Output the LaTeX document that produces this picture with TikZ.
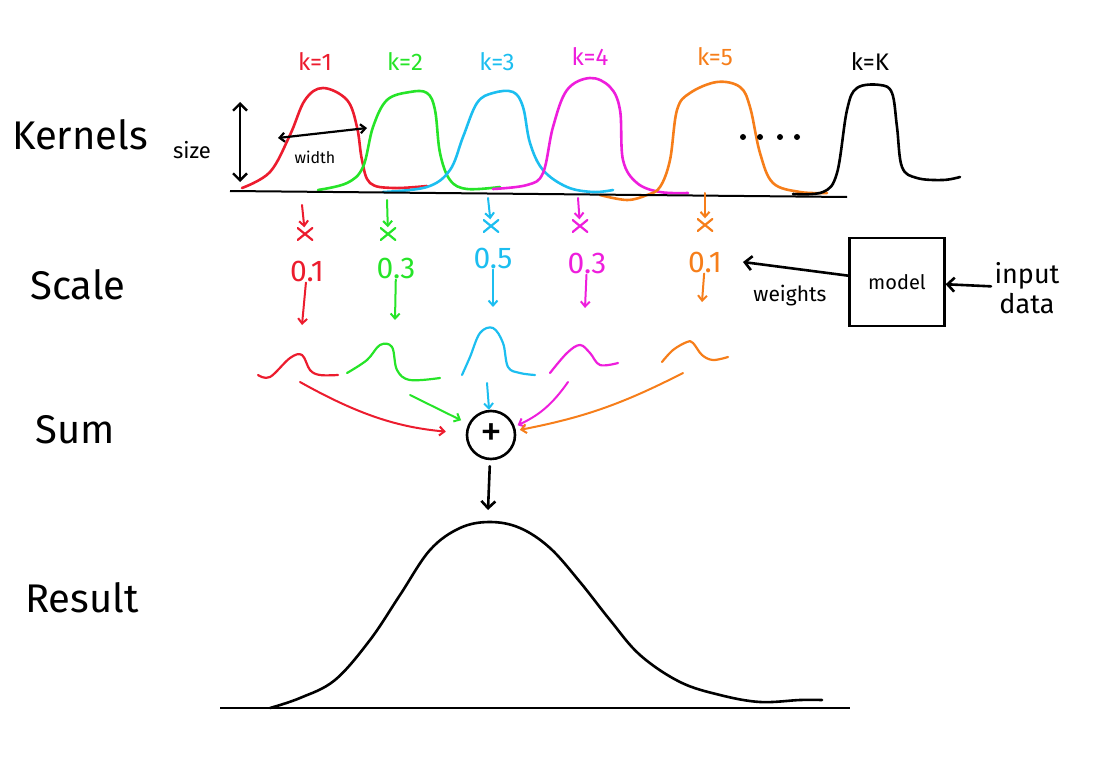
\documentclass[tikz,border=0pt]{standalone}
\usepackage{fontspec}
\setmainfont{Fira Sans}
\usetikzlibrary{arrows.meta, positioning}
\definecolor{kRed}{RGB}{236,28,46}
\definecolor{kGreen}{RGB}{38,228,40}
\definecolor{kCyan}{RGB}{28,190,240}
\definecolor{kMagenta}{RGB}{238,30,220}
\definecolor{kOrange}{RGB}{246,126,26}

\begin{document}
\begin{tikzpicture} [x=1pt, y=-1pt,
    kern/.style = {line width=2.6pt, line cap=round, line join=round},
    small/.style = {line width=2.2pt, line cap=round, line join=round},
    row/.style = {font=\fontsize{40}{42}\selectfont},
    klbl/.style = {font=\fontsize{24}{26}\selectfont},
    num/.style = {font=\fontsize{30}{32}\selectfont, inner sep=1pt},
    cross/.style = {minimum width=16pt, minimum height=13pt, inner sep=0pt,
      path picture={\draw[line width=2.2pt, line cap=round]
        (path picture bounding box.north west) -- (path picture bounding box.south east)
        (path picture bounding box.north east) -- (path picture bounding box.south west);}},
    every edge/.style={draw, -{Straight Barb[length=5pt, width=9pt]}, line width=2pt, line cap=round}
    ]
  \useasboundingbox (0,0) rectangle (1103,757);

  %%% ROW LABELS %%%
  \node[row] (kernels) at (80,135) {Kernels};
  \node[row] (scale)   at (78,285) {Scale};
  \node[row] (sum)     at (75,430) {Sum};
  \node[row] (result)  at (82,598) {Result};

  %%% KERNELS %%%
  \draw[kern, kRed] plot[smooth, tension=0.6] coordinates {(242,188) (270,172) (290,135) (305,100) (323,88) (347,100) (357,127) (362,160) (370,183) (393,188) (427,186)};
  \draw[kern, kGreen] plot[smooth, tension=0.6] coordinates {(318,190) (347,183) (363,167) (373,127) (387,100) (410,92) (427,93) (435,110) (440,153) (450,180) (467,189) (500,187)};
  \draw[kern, kCyan] plot[smooth, tension=0.6] coordinates {(383,192) (427,187) (450,170) (463,137) (477,103) (493,93) (513,92) (523,107) (530,143) (543,170) (567,187) (593,192) (613,190)};
  \draw[kern, kMagenta] plot[smooth, tension=0.6] coordinates {(493,189) (527,185) (543,173) (553,127) (567,90) (590,78) (610,87) (620,110) (623,160) (637,183) (660,192) (688,193)};
  \draw[kern, kOrange] plot[smooth, tension=0.6] coordinates {(600,195) (627,200) (647,195) (660,187) (670,160) (677,110) (690,93) (717,82) (740,87) (750,107) (760,153) (773,183) (800,192) (827,193)};
  \draw[kern] plot[smooth, tension=0.6] coordinates {(793,194) (823,192) (837,173) (847,110) (857,88) (880,85) (892,93) (897,127) (902,167) (917,178) (943,180) (960,177)};
  \draw[line width=2pt] (230,191) -- (847,197);
    % text labels
    \node[klbl, kRed]     (k1) at (315,62) {k=1};
    \node[klbl, kGreen]   (k2) at (405,62) {k=2};
    \node[klbl, kCyan]    (k3) at (497,62) {k=3};
    \node[klbl, kMagenta] (k4) at (590,57) {k=4};
    \node[klbl, kOrange]  (k5) at (715,57) {k=5};
    \node[klbl]           (kK) at (870,62) {k=K};
    \foreach \dx in {743,760,780,797} \fill (\dx,137) circle (3pt);

  %%% SIZE / WIDTH %%%
  \coordinate (sizetop) at (240,102);
  \coordinate (sizebot) at (240,182);
  \draw[{Straight Barb[length=7pt, width=14pt]}-{Straight Barb[length=7pt, width=14pt]}, line width=2.4pt] (sizetop) -- (sizebot);
  \node[font=\fontsize{22}{24}\selectfont] (size) at (192,150) {size};
  \coordinate (widthL) at (278,138);
  \coordinate (widthR) at (367,128);
  \draw[{Straight Barb[length=5pt, width=9pt]}-{Straight Barb[length=5pt, width=9pt]}, line width=2.2pt] (widthL) -- (widthR);
  \node[font=\fontsize{16}{18}\selectfont] (width) at (315,157) {width};

  %%% SCALE %%%
  \coordinate (t1) at (302,205);  \node[cross, kRed]     (x1) at (305,234) {};
  \coordinate (t2) at (387,200);  \node[cross, kGreen]   (x2) at (388,234) {};
  \coordinate (t3) at (488,198);  \node[cross, kCyan]    (x3) at (491,226) {};
  \coordinate (t4) at (578,198);  \node[cross, kMagenta] (x4) at (580,226) {};
  \coordinate (t5) at (705,193);  \node[cross, kOrange]  (x5) at (705,225) {};
  \node[num, kRed]     (n1) at (307,271) {0.1};
  \node[num, kGreen]   (n2) at (396,268) {0.3};
  \node[num, kCyan]    (n3) at (493,258) {0.5};
  \node[num, kMagenta] (n4) at (587,263) {0.3};
  \node[num, kOrange]  (n5) at (705,262) {0.1};
  \coordinate (s1) at (302,325);
  \coordinate (s2) at (395,320);
  \coordinate (s3) at (493,307);
  \coordinate (s4) at (585,308);
  \coordinate (s5) at (702,302);

  %%% SCALED KERNELS %%%
  \draw[small, kRed] plot[smooth, tension=0.6] coordinates {(258,375) (270,377) (290,358) (302,355) (310,370) (320,375) (338,375)};
  \draw[small, kGreen] plot[smooth, tension=0.6] coordinates {(347,373) (367,360) (380,345) (392,347) (397,370) (410,380) (440,378)};
  \draw[small, kCyan] plot[smooth, tension=0.6] coordinates {(462,375) (470,357) (480,333) (493,328) (503,343) (508,367) (520,373) (535,375)};
  \draw[small, kMagenta] plot[smooth, tension=0.6] coordinates {(550,373) (567,353) (580,345) (590,353) (600,365) (618,363)};
  \draw[small, kOrange] plot[smooth, tension=0.6] coordinates {(662,362) (673,350) (687,342) (693,343) (702,355) (713,360) (728,357)};
  \coordinate (r1) at (300,382);
  \coordinate (r2) at (410,395);
  \coordinate (r3) at (487,383);
  \coordinate (r4) at (568,382);
  \coordinate (r5) at (683,373);

  %%% SUM %%%
  \node[circle, draw, line width=2.6pt, minimum size=48pt, inner sep=0pt, font=\fontsize{44}{44}\selectfont] (plus) at (491,435) {+};

  %%% MODEL %%%
  \node[draw, line width=2.2pt, minimum width=95pt, minimum height=88pt, font=\fontsize{20}{22}\selectfont] (model) at (897,282) {model};
  \node[font=\fontsize{21}{22}\selectfont] (weights) at (790,296) {weights};
  \node[font=\fontsize{27}{30}\selectfont, align=center] (input) at (1027,288) {input\\data};

  %%% RESULT %%%
  \coordinate (rtop) at (488,510);
  \draw[line width=2.4pt] (220,708) -- (850,708);
  \draw[kern] plot[smooth, tension=0.6] coordinates {(270,708) (300,698) (335,680) (370,640) (400,595) (430,550) (460,528) (490,522) (520,528) (550,548) (580,582) (610,620) (640,655) (680,682) (720,695) (760,702) (800,700) (822,700)};

  % Edges
  \path[kRed] (t1) edge (x1);
  \path[kGreen] (t2) edge (x2);
  \path[kCyan] (t3) edge (x3);
  \path[kMagenta] (t4) edge (x4);
  \path[kOrange] (t5) edge (x5);

  \path[kRed] (n1) edge (s1);
  \path[kGreen] (n2) edge (s2);
  \path[kCyan] (n3) edge (s3);
  \path[kMagenta] (n4) edge (s4);
  \path[kOrange] (n5) edge (s5);

  \path[kRed] (r1) edge[bend right=12, shorten >=20pt] (plus);
  \path[kGreen] (r2) edge[shorten >=8pt] (plus);
  \path[kCyan] (r3) edge (plus);
  \path[kMagenta] (r4) edge[bend left=15, shorten >=3pt] (plus);
  \path[kOrange] (r5) edge[bend left=8, shorten >=4pt] (plus);

  \path (plus) edge[line width=2.6pt, -{Straight Barb[length=7pt, width=14pt]}, shorten <=6pt] (rtop);
  \path (model) edge[line width=2.6pt, -{Straight Barb[length=7pt, width=14pt]}] ([xshift=20pt]n5.east);
  \path (input) edge[line width=2.6pt, -{Straight Barb[length=7pt, width=14pt]}] (model);

\end{tikzpicture}
\end{document}
